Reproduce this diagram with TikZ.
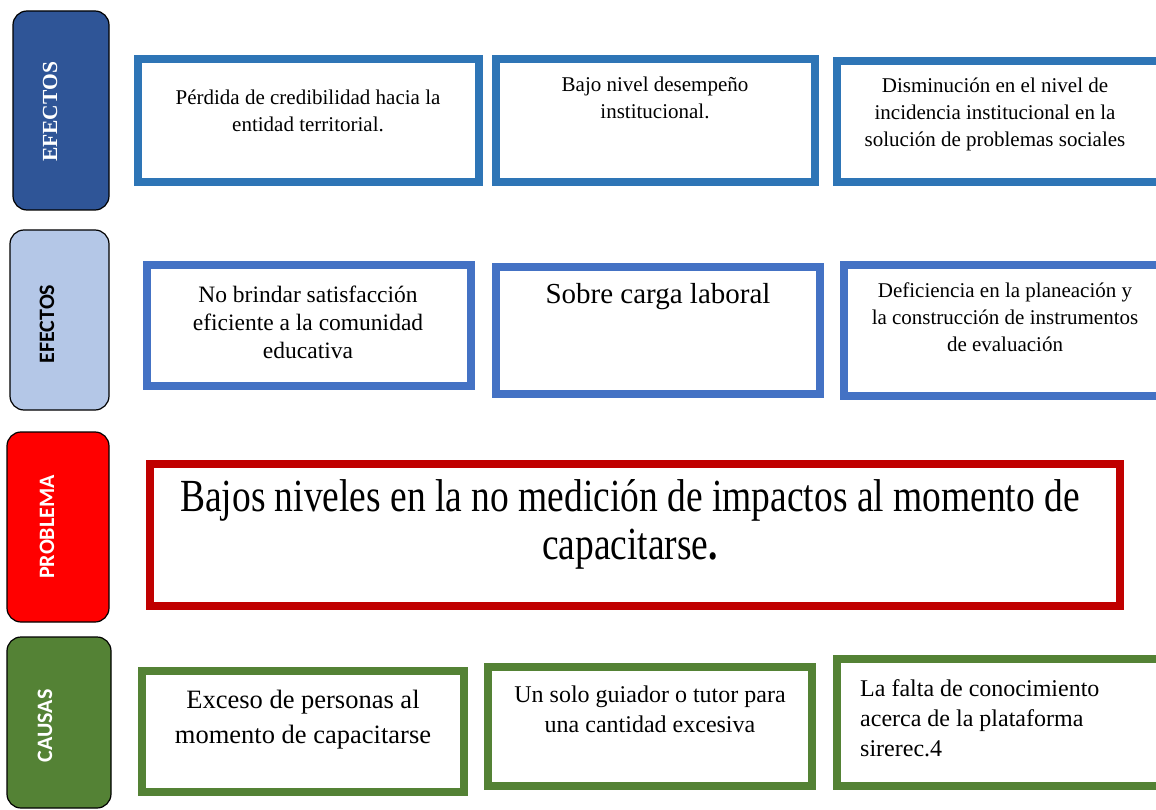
\documentclass[tikz,border=0pt]{standalone}
\usepackage{fontspec}
\setmainfont{Liberation Serif}
\newfontfamily\labelsans{Carlito}
\newfontfamily\problemfont[FakeStretch=0.815]{Liberation Serif}

\definecolor{tagdark}{HTML}{2F5597}
\definecolor{taglight}{HTML}{B4C7E7}
\definecolor{tagred}{HTML}{FF0000}
\definecolor{taggreen}{HTML}{548235}
\definecolor{rowone}{HTML}{2E75B6}
\definecolor{rowtwo}{HTML}{4472C4}
\definecolor{probred}{HTML}{C00000}

\begin{document}
\begin{tikzpicture}[x=1pt, y=-1pt,
    tag/.style={draw=black, line width=1.2pt, rounded corners=14pt, outer sep=0pt, anchor=north west},
    tagtext/.style={rotate=90, font=\labelsans\bfseries\fontsize{22}{26}\selectfont},
    cell/.style={draw, line width=8pt, outer sep=0pt, anchor=north west},
    celltext/.style={align=center, inner sep=0pt},
    small/.style={font=\fontsize{21}{27}\selectfont},
    mid/.style={font=\fontsize{24}{30}\selectfont}]
    \useasboundingbox (0, 0) rectangle (1156, 810);
    \clip (0, 0) rectangle (1156, 810);
    %\draw[lightgray, step=50] (0, 0) grid (1156, 810);

    % left tags
    \node[tag, fill=tagdark, minimum width=96pt, minimum height=199pt] (t1) at (13, 11) {};
    \node[tag, fill=taglight, minimum width=99pt, minimum height=180pt] (t2) at (10, 230) {};
    \node[tag, fill=tagred, minimum width=102pt, minimum height=190pt] (t3) at (7, 432) {};
    \node[tag, fill=taggreen, minimum width=104pt, minimum height=171pt] (t4) at (7, 637) {};
    \node[tagtext, white, font=\bfseries\fontsize{21.5}{26}\selectfont] (t1txt) at (50, 112) {EFECTOS};
    \node[tagtext, black] (t2txt) at (47, 324) {EFECTOS};
    \node[tagtext, white] (t3txt) at (47, 527) {PROBLEMA};
    \node[tagtext, white] (t4txt) at (45, 726) {CAUSAS};

    % efectos (1)
    \node[cell, draw=rowone, minimum width=341pt, minimum height=123pt] (ef1) at (138, 59) {};
    \node[cell, draw=rowone, minimum width=319pt, minimum height=123pt] (ef2) at (496, 59) {};
    \node[cell, draw=rowone, minimum width=340pt, minimum height=121pt] (ef3) at (837, 61) {};
    \node[celltext, small] (ef1txt) at (308, 111) {Pérdida de credibilidad hacia la\\entidad territorial.};
    \node[celltext, small] (ef2txt) at (655, 98) {Bajo nivel desempeño\\institucional.};
    \node[celltext, small] (ef3txt) at (995, 114) {Disminución en el nivel de\\incidencia institucional en la\\solución de problemas sociales};

    % efectos (2)
    \node[cell, draw=rowtwo, minimum width=324pt, minimum height=121pt] (es1) at (147, 265) {};
    \node[cell, draw=rowtwo, minimum width=324pt, minimum height=127pt] (es2) at (496, 267) {};
    \node[cell, draw=rowtwo, minimum width=330pt, minimum height=131pt] (es3) at (844, 265) {};
    \node[celltext, font=\fontsize{23.5}{28}\selectfont] (es1txt) at (308, 322) {No brindar satisfacción\\eficiente a la comunidad\\educativa};
    \node[celltext, font=\fontsize{29}{34}\selectfont] (es2txt) at (658, 297) {Sobre carga laboral};
    \node[celltext, small] (es3txt) at (1005, 317) {Deficiencia en la planeación y\\la construcción de instrumentos\\de evaluación};

    % problema
    \node[cell, draw=probred, minimum width=970pt, minimum height=142pt] (prob) at (150, 464) {};
    \node[celltext, font=\problemfont\fontsize{46}{48}\selectfont] (probtxt) at (630, 524) {Bajos niveles en la no medición de impactos al momento de\\capacitarse\textbf{.}};

    % causas
    \node[cell, draw=taggreen, minimum width=322pt, minimum height=121pt] (ca1) at (142, 671) {};
    \node[cell, draw=taggreen, minimum width=324pt, minimum height=119pt] (ca2) at (488, 667) {};
    \node[cell, draw=taggreen, minimum width=340pt, minimum height=127pt] (ca3) at (837, 659) {};
    \node[celltext, font=\fontsize{26.5}{35}\selectfont] (ca1txt) at (303, 720) {Exceso de personas al\\momento de capacitarse};
    \node[celltext, mid] (ca2txt) at (650, 709) {Un solo guiador o tutor para\\una cantidad excesiva};
    \node[celltext, mid, align=left, anchor=west] (ca3txt) at (860, 718) {La falta de conocimiento\\acerca de la plataforma\\sirerec.4};
\end{tikzpicture}
\end{document}
